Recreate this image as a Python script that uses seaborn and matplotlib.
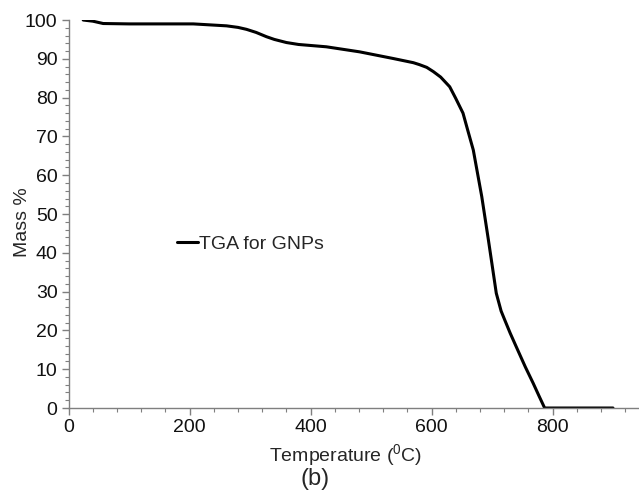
import pandas as pd
import seaborn as sns
import matplotlib.pyplot as plt
from matplotlib.ticker import MultipleLocator


# --------------------------------------------------
# data
# --------------------------------------------------
temperature = [24, 40, 57, 100, 150, 206, 261, 280, 294, 310, 327, 340, 360,
               380, 426, 481, 536, 570, 580, 592, 603, 615, 630, 640, 652,
               660, 669, 676, 683, 694, 700, 707, 715, 721, 730, 740, 755,
               768, 778, 787, 812, 850, 900]
mass = [100, 99.7, 99.1, 99.0, 99.0, 99.0, 98.5, 98.1, 97.6, 96.8, 95.7,
        95.0, 94.2, 93.7, 93.1, 91.8, 90.1, 89.0, 88.5, 87.8, 86.7, 85.3,
        82.8, 79.8, 76.0, 71.5, 66.5, 60.5, 54.5, 43.3, 37.0, 29.6, 25.0,
        22.7, 19.3, 15.8, 10.6, 6.4, 3.0, 0, 0, 0, 0]

df = pd.DataFrame({"Temperature": temperature, "Mass": mass})


# --------------------------------------------------
# style
# --------------------------------------------------
sns.set_style("ticks")
plt.rcParams["font.family"] = ["Liberation Sans", "DejaVu Sans"]
plt.rcParams["mathtext.fontset"] = "custom"
plt.rcParams["mathtext.rm"] = "Liberation Sans"

axis_grey = "#7f7f7f"

fig = plt.figure(figsize=(6.39, 4.92), dpi=100)
ax = fig.add_axes([0.1075, 0.1707, 0.8925, 0.7886])

sns.lineplot(
    data=df,
    x="Temperature",
    y="Mass",
    sort=False,
    estimator=None,
    color="black",
    linewidth=2.2,
    label="TGA for GNPs",
    ax=ax
)

ax.set_xlim(0, 943)
ax.set_ylim(0, 100)

ax.xaxis.set_major_locator(MultipleLocator(200))
ax.xaxis.set_minor_locator(MultipleLocator(40))
ax.yaxis.set_major_locator(MultipleLocator(10))
ax.yaxis.set_minor_locator(MultipleLocator(2))

for side in ["top", "right"]:
    ax.spines[side].set_visible(False)
for side in ["left", "bottom"]:
    ax.spines[side].set_color(axis_grey)
    ax.spines[side].set_linewidth(1.0)

ax.tick_params(which="major", direction="out", length=5, width=1,
               color=axis_grey, labelsize=14, labelcolor="#111111", pad=3)
ax.tick_params(which="minor", direction="out", length=3, width=0.8,
               color=axis_grey)

ax.set_xlabel("Temperature ($\\mathregular{^0}$C)", fontsize=14, labelpad=4)
ax.set_ylabel("Mass %", fontsize=14)
ax.xaxis.label.set_position((0.485, 0))
ax.yaxis.set_label_coords(-0.066, 0.48)

# 그림 번호
fig.text(0.493, 0.026, "(b)", ha="center", va="center", fontsize=17)

ax.legend(
    loc="center left",
    bbox_to_anchor=(0.19, 0.4227),
    frameon=False,
    fontsize=14,
    handlelength=1.1,
    handletextpad=0.05,
    borderpad=0,
    borderaxespad=0
)

plt.savefig("out.png", dpi=100)
plt.close()
